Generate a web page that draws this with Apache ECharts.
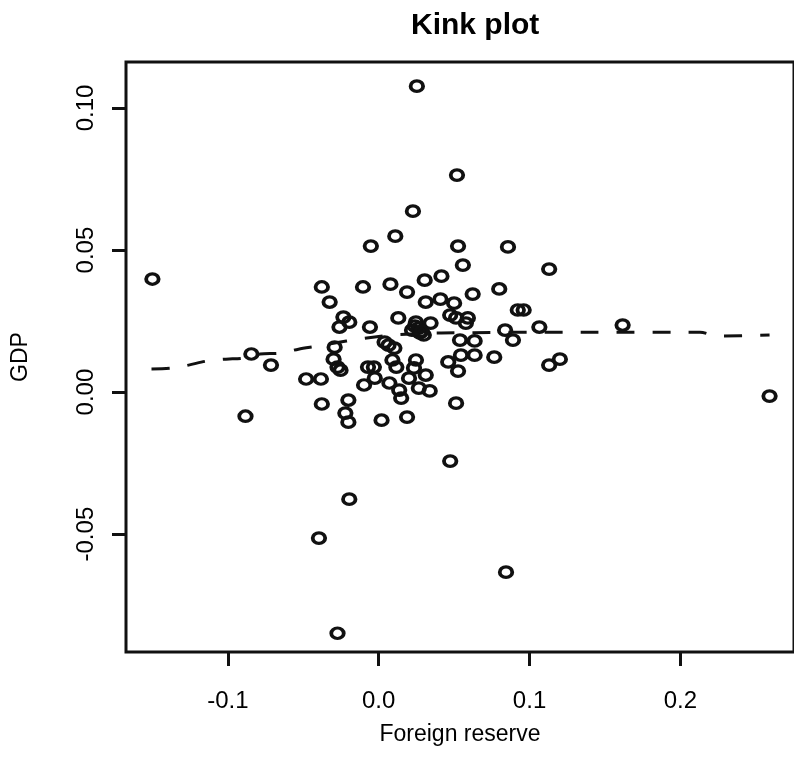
<!DOCTYPE html>
<html>
<head>
<meta charset="utf-8">
<script src="https://cdn.jsdelivr.net/npm/echarts@6/dist/echarts.min.js"></script>
<style>
html,body{margin:0;padding:0;background:#fff;}
#chart{width:794px;height:776px;}
</style>
</head>
<body>
<div id="chart"></div>
<script>
// Foreign reserve (x) and GDP (y) observations
const reserveX = [
  -0.150, -0.0883, -0.0844, -0.0714, -0.0481, -0.0383, -0.0377, -0.0396, -0.0273, -0.0195,
  -0.0377, -0.0325, -0.0234, -0.0195, -0.0260, -0.0292, -0.0299, -0.0273, -0.0253, -0.0201,
  -0.0221, -0.0201, -0.0104, -0.0052, -0.0058, -0.0071, -0.0032, -0.0026, -0.0097, 0.0078,
  0.0110, 0.0188, 0.0305, 0.0227, 0.0253, 0.0130, 0.0247, 0.0221, 0.0266, 0.0299,
  0.0273, 0.0039, 0.0065, 0.0104, 0.0091, 0.0117, 0.0247, 0.0234, 0.0071, 0.0136,
  0.0201, 0.0266, 0.0149, 0.0019, 0.0188, 0.0312, 0.0338, 0.0416, 0.0558, 0.0526,
  0.0519, 0.0312, 0.0409, 0.0500, 0.0474, 0.0513, 0.0591, 0.0578, 0.0344, 0.0539,
  0.0636, 0.0545, 0.0636, 0.0461, 0.0526, 0.0513, 0.0474, 0.0623, 0.0799, 0.0857,
  0.0922, 0.0961, 0.0838, 0.0890, 0.0766, 0.1065, 0.1130, 0.1130, 0.1201, 0.0844,
  0.1617, 0.2591, 0.0240, 0.0285
];
const gdpY = [
  0.0398, -0.0085, 0.0134, 0.0095, 0.0046, 0.0046, -0.0042, -0.0514, -0.0849, -0.0377,
  0.0370, 0.0317, 0.0264, 0.0246, 0.0229, 0.0158, 0.0116, 0.0088, 0.0077, -0.0028,
  -0.0074, -0.0106, 0.0370, 0.0514, 0.0229, 0.0088, 0.0088, 0.0049, 0.0025, 0.0380,
  0.0549, 0.0352, 0.0394, 0.0637, 0.1077, 0.0261, 0.0246, 0.0218, 0.0225, 0.0201,
  0.0208, 0.0176, 0.0165, 0.0155, 0.0113, 0.0088, 0.0113, 0.0085, 0.0032, 0.0007,
  0.0049, 0.0014, -0.0021, -0.0099, -0.0088, 0.0060, 0.0004, 0.0408, 0.0447, 0.0514,
  0.0764, 0.0317, 0.0327, 0.0313, 0.0271, 0.0261, 0.0261, 0.0243, 0.0243, 0.0183,
  0.0180, 0.0130, 0.0130, 0.0106, 0.0074, -0.0039, -0.0243, 0.0345, 0.0363, 0.0511,
  0.0289, 0.0289, 0.0218, 0.0183, 0.0123, 0.0229, 0.0433, 0.0095, 0.0116, -0.0634,
  0.0236, -0.0014, 0.0232, 0.0215
];
// Fitted kink curve (dashed)
const fitX = [-0.1506, -0.1377, -0.1260, -0.1143, -0.1013, -0.0903, -0.0786, -0.0656, -0.0532, -0.0403,
  -0.0253, -0.0175, -0.0026, 0.0084, 0.0416, 0.1403, 0.2130, 0.2247, 0.2591];
const fitY = [0.0081, 0.0084, 0.0095, 0.0109, 0.0116, 0.0119, 0.0134, 0.0137, 0.0151, 0.0162,
  0.0176, 0.0183, 0.0194, 0.0201, 0.0208, 0.0211, 0.0211, 0.0197, 0.0201];

const xTickValues = [-0.1, 0.0, 0.1, 0.2];
const xTickLabels = ['-0.1', '0.0', '0.1', '0.2'];
const yTickValues = [-0.05, 0.0, 0.05, 0.10];
const yTickLabels = ['-0.05', '0.00', '0.05', '0.10'];

const ink = '#111111';
const font = '"Liberation Sans", Arial, Helvetica, sans-serif';

const points = reserveX.map((x, i) => [x, gdpY[i]]);
const fitLine = fitX.map((x, i) => [x, fitY[i]]);

const chart = echarts.init(document.getElementById('chart'), null, {renderer: 'canvas'});
chart.setOption({
  animation: false,
  backgroundColor: '#ffffff',
  title: {
    text: 'Kink plot',
    left: 406,
    top: 6,
    textStyle: {fontFamily: font, fontSize: 30, fontWeight: 'bold', color: '#000'}
  },
  grid: {
    left: 126, top: 62, width: 682, height: 590,
    show: true, borderColor: ink, borderWidth: 3, backgroundColor: 'transparent'
  },
  xAxis: {
    type: 'value',
    min: -0.1675, max: 0.2753,
    name: 'Foreign reserve',
    nameLocation: 'middle',
    nameGap: 71,
    nameTextStyle: {fontFamily: font, fontSize: 23, color: '#000'},
    axisLine: {show: false, onZero: false},
    splitLine: {show: false},
    axisTick: {show: true, inside: false, length: 14, customValues: xTickValues,
      lineStyle: {color: ink, width: 3}},
    axisLabel: {
      customValues: xTickValues,
      margin: 37,
      fontFamily: font, fontSize: 24, color: '#000',
      formatter: v => { const i = xTickValues.findIndex(t => Math.abs(t - v) < 1e-9); return i >= 0 ? xTickLabels[i] : ''; }
    }
  },
  yAxis: {
    type: 'value',
    min: -0.0915, max: 0.1162,
    name: 'GDP',
    nameLocation: 'middle',
    nameGap: 94,
    nameRotate: 90,
    nameTextStyle: {fontFamily: font, fontSize: 23, color: '#000'},
    axisLine: {show: false, onZero: false},
    splitLine: {show: false},
    axisTick: {show: true, inside: false, length: 14, customValues: yTickValues,
      lineStyle: {color: ink, width: 3}},
    axisLabel: {
      customValues: yTickValues,
      rotate: 90,
      margin: 28,
      fontFamily: font, fontSize: 24, color: '#000',
      formatter: v => { const i = yTickValues.findIndex(t => Math.abs(t - v) < 1e-9); return i >= 0 ? yTickLabels[i] : ''; }
    }
  },
  series: [
    {
      type: 'scatter',
      data: points,
      symbol: 'circle',
      symbolSize: [12.5, 10.5],
      itemStyle: {color: 'rgba(0,0,0,0)', borderColor: ink, borderWidth: 3.5, opacity: 1},
      emphasis: {disabled: true},
      z: 2
    },
    {
      type: 'line',
      data: fitLine,
      showSymbol: false,
      smooth: 0.3,
      lineStyle: {color: ink, width: 3, type: [18, 18], cap: 'butt'},
      emphasis: {disabled: true},
      z: 3
    }
  ]
});
</script>
</body>
</html>
